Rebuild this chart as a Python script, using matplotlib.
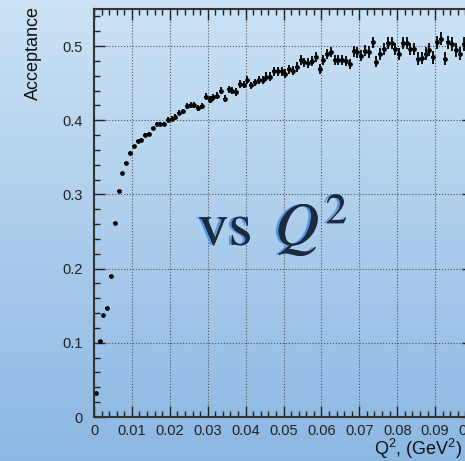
import numpy as np
import matplotlib
matplotlib.use("Agg")
import matplotlib.pyplot as plt
from matplotlib import patheffects
from matplotlib.patches import Ellipse
from matplotlib.ticker import MultipleLocator

plt.rcParams["font.family"] = ["Liberation Sans", "DejaVu Sans"]
plt.rcParams["mathtext.fontset"] = "custom"
plt.rcParams["mathtext.rm"] = "Liberation Sans"
plt.rcParams["mathtext.it"] = "Liberation Sans:italic"

# Q^2 bins (GeV^2): 1 MeV^2 wide, centres
q2 = np.arange(0.0005, 0.098, 0.001)
q2_halfwidth = 0.0005

# acceptance per bin
acc = [0.032, 0.102, 0.137, 0.147, 0.190, 0.262, 0.304, 0.329, 0.342,
       0.356, 0.365, 0.372, 0.374, 0.380, 0.382, 0.389, 0.395, 0.395, 0.395,
       0.401, 0.402, 0.405, 0.410, 0.412, 0.419, 0.421, 0.421, 0.416, 0.419,
       0.432, 0.428, 0.431, 0.433, 0.440, 0.429, 0.442, 0.440, 0.438, 0.449,
       0.448, 0.454, 0.447, 0.451, 0.454, 0.454, 0.459, 0.459, 0.466, 0.466,
       0.466, 0.463, 0.469, 0.467, 0.472, 0.481, 0.478, 0.477, 0.480, 0.485,
       0.469, 0.481, 0.489, 0.492, 0.481, 0.481, 0.481, 0.480, 0.476, 0.493,
       0.492, 0.487, 0.494, 0.492, 0.505, 0.479, 0.489, 0.496, 0.504, 0.504,
       0.496, 0.489, 0.504, 0.504, 0.496, 0.496, 0.483, 0.484, 0.490, 0.495,
       0.485, 0.505, 0.510, 0.483, 0.505, 0.503, 0.495, 0.490, 0.503]

acc_err = [0.001, 0.001, 0.001, 0.001, 0.001, 0.0012, 0.0015, 0.0015, 0.0018, 0.002,
           0.002, 0.002, 0.0022, 0.0024, 0.0025, 0.0026, 0.0028, 0.003, 0.003, 0.0032,
           0.0033, 0.0034, 0.0035, 0.0036, 0.0037, 0.0038, 0.0039, 0.004, 0.004, 0.0042,
           0.0043, 0.0044, 0.0045, 0.0046, 0.0046, 0.0047, 0.0048, 0.0049, 0.005, 0.005,
           0.0051, 0.0052, 0.0053, 0.0054, 0.0055, 0.0056, 0.0057, 0.0058, 0.0059, 0.006,
           0.006, 0.0061, 0.0062, 0.0063, 0.0064, 0.0064, 0.0065, 0.0066, 0.0066, 0.0067,
           0.0068, 0.0068, 0.0069, 0.007, 0.007, 0.0071, 0.0072, 0.0072, 0.0073, 0.0074,
           0.0075, 0.0075, 0.0076, 0.0077, 0.0078, 0.0078, 0.0079, 0.008, 0.008, 0.0081,
           0.0082, 0.0083, 0.0083, 0.0084, 0.0085, 0.0085, 0.0086, 0.0087, 0.0088, 0.0088,
           0.0089, 0.009, 0.009, 0.0091, 0.0092, 0.0092, 0.0093, 0.0094]

W, H = 465, 461
fig = plt.figure(figsize=(W / 100, H / 100), dpi=100)

# slide background: light blue vertical gradient
bg = fig.add_axes([0, 0, 1, 1], zorder=-1)
top = np.array([0.80, 0.89, 0.96])
bot = np.array([0.55, 0.72, 0.89])
t = np.linspace(0, 1, 256)[:, None]
grad = top * (1 - t) + bot * t
bg.imshow(grad[:, None, :].repeat(2, axis=1), aspect="auto", extent=[0, 1, 0, 1])
bg.add_patch(Ellipse((0.32, -0.06), 0.5, 0.12, facecolor=(0.86, 0.90, 0.95),
                     edgecolor="none", alpha=0.7))
bg.set_xlim(0, 1)
bg.set_ylim(0, 1)
bg.axis("off")

# main axes (right edge runs off the slide like in the picture)
ax = fig.add_axes([94 / W, 44 / H, 379 / W, 408 / H])
ax.set_facecolor("none")
ax.errorbar(q2, acc, yerr=acc_err, xerr=q2_halfwidth, fmt="o", color="black",
            markersize=2.4, elinewidth=1.3, capsize=0)

ax.set_xlim(0, 0.1)
ax.set_ylim(0, 0.55)
ax.xaxis.set_major_locator(MultipleLocator(0.01))
ax.xaxis.set_minor_locator(MultipleLocator(0.002))
ax.yaxis.set_major_locator(MultipleLocator(0.1))
ax.yaxis.set_minor_locator(MultipleLocator(0.02))
ax.xaxis.set_major_formatter(plt.FuncFormatter(lambda v, p: "0" if abs(v) < 1e-9 else ("%.2f" % v)))
ax.yaxis.set_major_formatter(plt.FuncFormatter(lambda v, p: "0" if abs(v) < 1e-9 else ("%.1f" % v)))

ax.tick_params(which="both", direction="in", top=True, right=True,
               labelsize=10.5, colors="#222222", width=1.0)
ax.tick_params(which="major", length=8)
ax.tick_params(which="minor", length=4)
ax.tick_params(axis="x", which="major", pad=5)
ax.tick_params(axis="y", which="major", pad=8)
for s in ax.spines.values():
    s.set_linewidth(1.5)
    s.set_color("#333333")

ax.grid(True, which="major", linestyle=":", color="#555555", linewidth=0.8)

# axis titles, ROOT style (aligned to the axis end)
fig.text(33 / W, 1 - 6 / H, "Acceptance", rotation=90, ha="center", va="top",
         fontsize=13, color="#111111")
fig.text(462 / W, 1 - 449 / H, "Q$^2$, (GeV$^2$)", ha="right", va="center",
         fontsize=13, color="#111111")

# slide annotation
fig.text(198 / W, 1 - 245 / H, r"vs $\,Q^2$", ha="left", va="baseline",
         fontsize=44, family="STIXGeneral", math_fontfamily="stix", color="#1b2a3d",
         path_effects=[patheffects.withSimplePatchShadow(offset=(-2, 0), shadow_rgbFace="#4a90e0",
                                                          alpha=0.9),
                       patheffects.Normal()])

fig.savefig("out.png", dpi=100)
